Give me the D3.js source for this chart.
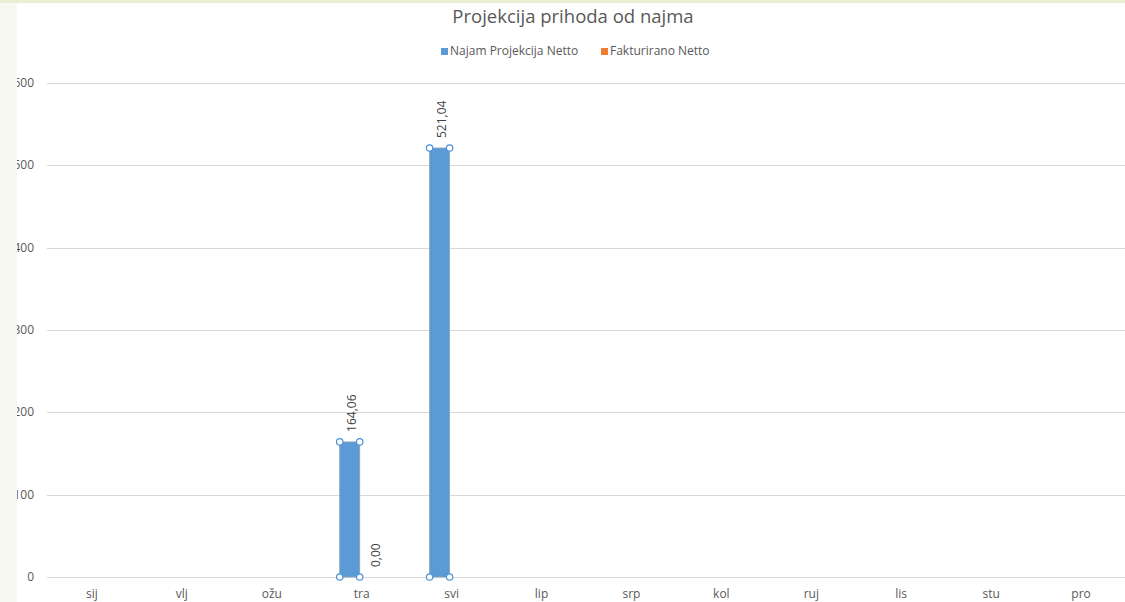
<!DOCTYPE html>
<meta charset="utf-8">
<script src="https://d3js.org/d3.v7.min.js"></script>
<style>
  body { margin: 0; background: #fff; }
  text { font-family: "Open Sans", "Liberation Sans", sans-serif; }
</style>
<div id="chart"></div>
<script>
// chart data
var months = ["sij", "vlj", "ožu", "tra", "svi", "lip", "srp", "kol", "ruj", "lis", "stu", "pro"];
var seriesNames = ["Najam Projekcija Netto", "Fakturirano Netto"];
var seriesColors = ["#5B9BD5", "#ED7D31"];
var projekcija = [null, null, null, 164.06, 521.04, null, null, null, null, null, null, null];
var fakturirano = [null, null, null, 0, null, null, null, null, null, null, null, null];
var yTicks = [0, 100, 200, 300, 400, 500, 600];

var W = 1125, H = 602;
var margin = {top: 83, right: -1, bottom: 25, left: 47};

var svg = d3.select("#chart").append("svg")
  .attr("width", W).attr("height", H);

var x = d3.scaleBand().domain(months).range([margin.left, W - margin.right]).padding(0);
var y = d3.scaleLinear().domain([0, 600]).range([H - margin.bottom, margin.top]);
var groupW = 40;
var xs = d3.scaleBand().domain([0, 1]).range([0, groupW]);

// gridlines
svg.append("g").selectAll("line").data(yTicks).enter().append("line")
  .attr("x1", margin.left).attr("x2", W)
  .attr("y1", d => Math.round(y(d)) + 0.5).attr("y2", d => Math.round(y(d)) + 0.5)
  .attr("stroke", "#d9d9d9").attr("stroke-width", 1);

// y labels
svg.append("g").selectAll("text").data(yTicks).enter().append("text")
  .attr("x", 34).attr("y", d => y(d) + 4)
  .attr("text-anchor", "end")
  .attr("font-size", 12).attr("fill", "#595959")
  .text(d => d);

// x labels
svg.append("g").selectAll("text").data(months).enter().append("text")
  .attr("x", d => x(d) + x.bandwidth() / 2)
  .attr("y", H - 4)
  .attr("text-anchor", "middle")
  .attr("font-size", 12).attr("fill", "#595959")
  .text(d => d);

// bars
var rows = [];
months.forEach(function(m, i) {
  [projekcija[i], fakturirano[i]].forEach(function(v, s) {
    if (v !== null) rows.push({m: m, s: s, v: v});
  });
});

function bx(d) { return x(d.m) + x.bandwidth() / 2 - groupW / 2 - 2 + xs(d.s); }

svg.append("g").selectAll("rect").data(rows.filter(d => d.v > 0)).enter().append("rect")
  .attr("x", bx)
  .attr("y", d => y(d.v))
  .attr("width", xs.bandwidth())
  .attr("height", d => y(0) - y(d.v))
  .attr("fill", d => seriesColors[d.s])
  .attr("stroke", "#8fa3b5").attr("stroke-width", 0.8);

// selection handles on projekcija bars
var handles = [];
rows.filter(d => d.s === 0).forEach(function(d) {
  var x0 = bx(d), x1 = x0 + xs.bandwidth();
  [[x0, y(d.v)], [x1, y(d.v)], [x0, y(0)], [x1, y(0)]].forEach(p => handles.push(p));
});
svg.append("g").selectAll("circle").data(handles).enter().append("circle")
  .attr("cx", d => d[0]).attr("cy", d => d[1]).attr("r", 3.2)
  .attr("fill", "#fff").attr("stroke", "#4a90d9").attr("stroke-width", 1.2);

// data labels
svg.append("g").selectAll("text").data(rows).enter().append("text")
  .attr("transform", function(d) {
    var cx = bx(d) + xs.bandwidth() / 2 + (d.s === 0 ? 6 : 10);
    return "translate(" + cx + "," + (y(d.v) - 10) + ") rotate(-90)";
  })
  .attr("font-size", 12).attr("fill", "#404040")
  .text(d => d3.format(".2f")(d.v).replace(".", ","));

// title
svg.append("text")
  .attr("x", 573).attr("y", 23)
  .attr("text-anchor", "middle")
  .attr("font-size", 18.5).attr("fill", "#595959")
  .text("Projekcija prihoda od najma");

// legend
var legend = svg.append("g").attr("transform", "translate(441,52)");
var lx = [0, 160];
seriesNames.forEach(function(n, i) {
  legend.append("rect").attr("x", lx[i]).attr("y", -4).attr("width", 7).attr("height", 7)
    .attr("fill", seriesColors[i]);
  legend.append("text").attr("x", lx[i] + 9).attr("y", 3)
    .attr("font-size", 12).attr("fill", "#595959").text(n);
});

// slide background strips
svg.append("rect").attr("x", 0).attr("y", 0).attr("width", W).attr("height", 3).attr("fill", "#e9efd4");
svg.append("rect").attr("x", 0).attr("y", 3).attr("width", 17).attr("height", H).attr("fill", "#f7f9f0");
</script>
